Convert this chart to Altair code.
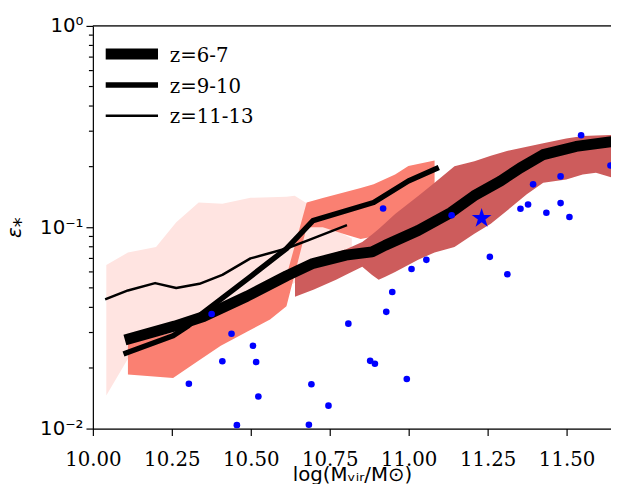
import altair as alt
import pandas as pd

# ---------------- data ----------------
pink_x = [10.0425, 10.111, 10.2, 10.264, 10.335, 10.41, 10.499, 10.613, 10.639, 10.681, 10.693, 10.75, 10.82]
pink_lo = [0.0146, 0.0222, 0.026, 0.029, 0.032, 0.036, 0.042, 0.050, 0.053, 0.058, 0.060, 0.068, 0.078]
pink_hi = [0.0649, 0.0749, 0.0798, 0.1059, 0.1327, 0.1308, 0.140, 0.1416, 0.1432, 0.1303, 0.1222, 0.100, 0.088]

salmon_x = [10.111, 10.254, 10.332, 10.405, 10.488, 10.561, 10.613, 10.677, 10.728, 10.80, 10.848, 10.889, 10.957, 10.999, 11.082]
salmon_lo = [0.01858, 0.01784, 0.0216, 0.0258, 0.0303, 0.0348, 0.0405, 0.100, 0.100, 0.092, 0.0875, 0.090, 0.103, 0.112, 0.125]
salmon_hi = [0.0268, 0.030, 0.0355, 0.040, 0.0454, 0.051, 0.0573, 0.1328, 0.1396, 0.1497, 0.1568, 0.1634, 0.1829, 0.2014, 0.2144]

red_x = [10.64, 10.70, 10.77, 10.80, 10.853, 10.884, 10.905, 10.926, 10.957, 11.03, 11.082, 11.145, 11.208,
         11.26, 11.311, 11.374, 11.426, 11.499, 11.551, 11.593, 11.646]
red_lo = [0.0452, 0.049, 0.0548, 0.058, 0.0637, 0.058, 0.0548, 0.0567, 0.060, 0.069, 0.075, 0.0798, 0.0929,
          0.104, 0.1208, 0.146, 0.1664, 0.1728, 0.1829, 0.1863, 0.176]
red_hi = [0.059, 0.069, 0.075, 0.0775, 0.0845, 0.092, 0.098, 0.105, 0.1164, 0.143, 0.1664, 0.2011, 0.2127,
          0.2268, 0.2391, 0.2512, 0.2615, 0.2758, 0.2836, 0.2855, 0.2875]

z67_x = [10.118, 10.259, 10.35, 10.488, 10.613, 10.697, 10.801, 10.884, 10.926, 11.03, 11.134, 11.207,
         11.291, 11.353, 11.426, 11.53, 11.645]
z67_y = [0.0280, 0.0323, 0.0360, 0.0454, 0.0573, 0.0661, 0.0727, 0.0754, 0.0814, 0.0964, 0.1185, 0.1432,
         0.1697, 0.197, 0.2295, 0.252, 0.2666]
z910_x = [10.105, 10.254, 10.301, 10.3425, 10.499, 10.613, 10.697, 10.889, 10.999, 11.0875]
z910_y = [0.0237, 0.0289, 0.0323, 0.0369, 0.0569, 0.0784, 0.1079, 0.1327, 0.1697, 0.1955]
z1113_x = [10.0425, 10.111, 10.197, 10.264, 10.3375, 10.41, 10.499, 10.613, 10.681, 10.801]
z1113_y = [0.04405, 0.04853, 0.05279, 0.04988, 0.05236, 0.058, 0.070, 0.0784, 0.0861, 0.102]

series_names = ["z=6-7", "z=9-10", "z=11-13"]
series_widths = [11, 5.5, 2.5]

obs_x = [10.376, 10.439, 10.507, 10.410, 10.517, 10.304, 10.524, 10.456, 10.809, 10.929, 10.878, 10.893,
         10.994, 10.692, 10.746, 10.684, 10.919, 11.136, 11.056, 11.009, 10.948, 11.257, 11.3125, 11.354,
         11.378, 11.394, 11.436, 11.481, 11.481, 11.509, 11.546, 11.639]
obs_y = [0.0371, 0.0296, 0.0258, 0.0216, 0.0214, 0.0167, 0.01443, 0.0104, 0.0332, 0.0380, 0.0217, 0.0210,
         0.01764, 0.0166, 0.0130, 0.01044, 0.1240, 0.1146, 0.0689, 0.0620, 0.0477, 0.0713, 0.0584, 0.1236,
         0.1297, 0.1634, 0.1181, 0.1789, 0.1318, 0.1125, 0.2862, 0.2025]

star_x = [11.231]
star_y = [0.1108]

y_major_ticks = [0.01, 0.1, 1.0]
y_minor_ticks = [0.02, 0.03, 0.04, 0.05, 0.06, 0.07, 0.08, 0.09,
                 0.2, 0.3, 0.4, 0.5, 0.6, 0.7, 0.8, 0.9]
x_tick_values = [10.0, 10.25, 10.5, 10.75, 11.0, 11.25, 11.5]

# ---------------- tables ----------------
df_pink = pd.DataFrame({"x": pink_x, "lo": pink_lo, "hi": pink_hi})
df_salmon = pd.DataFrame({"x": salmon_x, "lo": salmon_lo, "hi": salmon_hi})
df_red = pd.DataFrame({"x": red_x, "lo": red_lo, "hi": red_hi})
line_tables = [
    pd.DataFrame({"x": z67_x, "y": z67_y}),
    pd.DataFrame({"x": z910_x, "y": z910_y}),
    pd.DataFrame({"x": z1113_x, "y": z1113_y}),
]
df_obs = pd.DataFrame({"x": obs_x, "y": obs_y})
df_star = pd.DataFrame({"x": star_x, "y": star_y})
df_minor = pd.DataFrame({"y": y_minor_ticks})

W, H = 525, 408

# five-pointed star symbol (unit box)
STAR_PATH = ("M0,-1L0.2245,-0.309L0.9511,-0.309L0.3633,0.118L0.5878,0.809L0,0.382"
             "L-0.5878,0.809L-0.3633,0.118L-0.9511,-0.309L-0.2245,-0.309Z")

xscale = alt.Scale(domain=[10.0, 10.0 + W / 320.0], nice=False, zero=False)
yscale = alt.Scale(type="log", domain=[0.01, 1.0], nice=False)

xaxis = alt.Axis(
    values=x_tick_values, format=".2f", title="log(Mᵥᵢᵣ/M⊙)",
    labelFont="DejaVu Serif", labelFontSize=20, labelColor="black",
    labelBaseline="alphabetic", labelPadding=30, labelFlush=False, labelOverlap=False,
    tickSize=7, tickWidth=1.2, tickColor="black", domainColor="black", domainWidth=1.2,
    grid=False, titleFont="DejaVu Sans", titleFontSize=20, titleFontWeight="normal",
    titleColor="black", titleBaseline="alphabetic", titleY=53,
)
yaxis = alt.Axis(
    values=y_major_ticks,
    labelExpr="datum.value == 1 ? '10⁰' : (datum.value < 0.05 ? '10⁻²' : '10⁻¹')",
    labelFont="DejaVu Sans", labelFontSize=20, labelColor="black", labelPadding=3,
    labelFlush=False, labelOverlap=False,
    tickSize=7, tickWidth=1.2, tickColor="black", domainColor="black", domainWidth=1.2, grid=False,
    title="ε⁎", titleFont="DejaVu Sans", titleFontSize=20, titleFontWeight="normal",
    titleFontStyle="italic", titleColor="black",
    titleX=-79, titleY=H / 2, titleAlign="center", titleBaseline="middle", titleAngle=270,
)

X = alt.X("x:Q", scale=xscale, axis=xaxis)


def band(df, color):
    return alt.Chart(df).mark_area(color=color, opacity=1, clip=True).encode(
        x=X, y=alt.Y("lo:Q", scale=yscale, axis=yaxis), y2="hi:Q"
    )


layers = [band(df_pink, "#FFE4E1"), band(df_salmon, "#FA8072"), band(df_red, "#CD5C5C")]

for df_l, w in zip(line_tables, series_widths):
    layers.append(
        alt.Chart(df_l).mark_line(
            color="black", strokeWidth=w, strokeCap="square", strokeJoin="round", clip=True
        ).encode(x=X, y=alt.Y("y:Q", scale=yscale, axis=yaxis))
    )

layers.append(
    alt.Chart(df_obs).mark_point(
        shape="circle", filled=True, size=45, color="#0000FF", opacity=1, clip=True
    ).encode(x=X, y=alt.Y("y:Q", scale=yscale, axis=yaxis))
)
layers.append(
    alt.Chart(df_star).mark_point(
        shape=STAR_PATH, filled=True, size=440, color="#0000FF", opacity=1
    ).encode(x=X, y=alt.Y("y:Q", scale=yscale, axis=yaxis))
)
# minor ticks of the log axis
layers.append(
    alt.Chart(df_minor).mark_rule(color="black", strokeWidth=1.2).encode(
        y=alt.Y("y:Q", scale=yscale, axis=yaxis), x=alt.value(-4), x2=alt.value(0)
    )
)
# top spine
layers.append(
    alt.Chart(df_star).mark_rule(color="black", strokeWidth=1.2).encode(
        x=alt.value(0), x2=alt.value(W), y=alt.value(0)
    )
)

# legend (line sample + label per series)
LEG_X0, LEG_X1, LEG_TX = 13, 66, 78
LEG_ROW0, LEG_STEP = 28.5, 31.3
for i, (name, w) in enumerate(zip(series_names, series_widths)):
    ycen = LEG_ROW0 + i * LEG_STEP
    df_leg = pd.DataFrame({"series": [name]})
    layers.append(
        alt.Chart(df_leg).mark_rule(color="black", strokeWidth=w).encode(
            x=alt.value(LEG_X0), x2=alt.value(LEG_X1), y=alt.value(ycen)
        )
    )
    layers.append(
        alt.Chart(df_leg).mark_text(
            align="left", baseline="alphabetic", font="DejaVu Serif", fontSize=20, color="black"
        ).encode(x=alt.value(LEG_TX), y=alt.value(ycen + 7.7), text="series:N")
    )

chart = alt.layer(*layers).properties(
    width=W, height=H,
    autosize=alt.AutoSizeParams(type="none"),
    padding={"left": 86, "top": 15, "right": 0, "bottom": 53},
).configure_view(stroke=None).configure(background="white")

chart.save("out.html", embed_options={"renderer": "svg", "actions": False})
